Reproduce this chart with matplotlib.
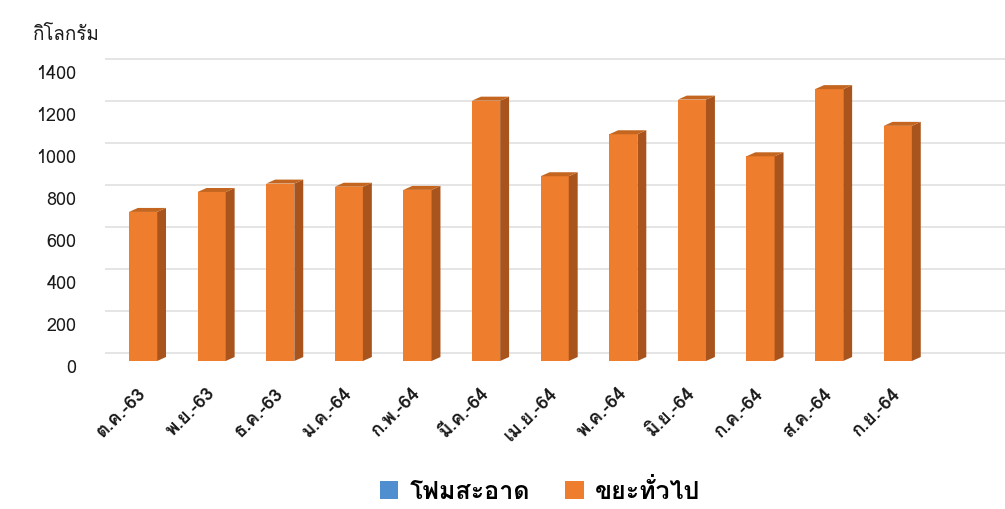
# Recreate the Thai monthly waste bar chart (3D-look bars)
import numpy as np
import matplotlib
matplotlib.use('Agg')
import matplotlib.pyplot as plt
from matplotlib import font_manager
from matplotlib.ft2font import FT2Font
from matplotlib.patches import Polygon, Patch
from matplotlib.transforms import ScaledTranslation

# Data
months = ['ต.ค.-63', 'พ.ย.-63', 'ธ.ค.-63', 'ม.ค.-64', 'ก.พ.-64', 'มี.ค.-64',
          'เม.ย.-64', 'พ.ค.-64', 'มิ.ย.-64', 'ก.ค.-64', 'ส.ค.-64', 'ก.ย.-64']
foam_kg = [0, 0, 0, 0, 0, 0, 0, 0, 0, 0, 0, 0]
general_kg = [710, 805, 845, 830, 815, 1240, 880, 1080, 1245, 975, 1295, 1120]
y_ticks = [0, 200, 400, 600, 800, 1000, 1200, 1400]
unit_label = 'กิโลกรัม'
legend_labels = ['โฟมสะอาด', 'ขยะทั่วไป']

FRONT = '#EE7D2E'
SIDE = '#A8541C'
TOP = '#C4661F'
BLUE = '#4F8FCF'


def find_thai_font():
    """Return the name of an installed font that has Thai glyphs"""
    found = []
    for f in font_manager.fontManager.ttflist:
        try:
            cmap = FT2Font(f.fname).get_charmap()
        except Exception:
            continue
        if 0x0E01 in cmap and 0x0E35 in cmap and 0x0E4C in cmap:
            found.append(f)
    if not found:
        return 'DejaVu Sans'
    # prefer a regular upright face
    found.sort(key=lambda f: (f.style != 'normal', abs(f.weight - 400) if isinstance(f.weight, int) else 0))
    return found[0].name


thai = find_thai_font()
plt.rcParams['font.family'] = [thai, 'DejaVu Sans']

fig = plt.figure(figsize=(10.05, 5.1), dpi=100)
ax = fig.add_axes([100 / 1005, (510 - 362) / 510, 900 / 1005, 312 / 510])

x = np.arange(len(months))
w = 0.41     # front face width
dx = 0.13    # depth, x data units
dy = 19      # depth, y data units

ax.bar(x, foam_kg, width=w, color=BLUE, zorder=3)
ax.bar(x, general_kg, width=w, color=FRONT, zorder=3)
for xi, v in zip(x, general_kg):
    left, right = xi - w / 2, xi + w / 2
    ax.add_patch(Polygon([(right, 0), (right + dx, dy), (right + dx, v + dy), (right, v)],
                         closed=True, facecolor=SIDE, edgecolor='none', zorder=3))
    ax.add_patch(Polygon([(left, v), (right, v), (right + dx, v + dy), (left + dx, v + dy)],
                         closed=True, facecolor=TOP, edgecolor='none', zorder=3))

# back-wall gridlines sit a little higher than the front face
grid_shift = 38
ax.hlines(np.array(y_ticks) + grid_shift, -0.55, 12.6, color='#e0e0e0', lw=1.2,
          zorder=1, clip_on=False)

ax.set_xlim(-0.627, 12.49)
ax.set_ylim(0, 1486)

ax.set_yticks(y_ticks)
ax.set_yticklabels([str(t) for t in y_ticks], fontsize=13, color='#1a1a1a')
ax.tick_params(axis='y', length=0, pad=17)
for lab in ax.get_yticklabels():
    lab.set_transform(lab.get_transform() + ScaledTranslation(0, -4 / 100, fig.dpi_scale_trans))

ax.set_xticks(x)
ax.set_xticklabels(months, rotation=45, ha='right', va='top', rotation_mode='anchor',
                   fontsize=13.5, fontweight='bold', color='#1a1a1a')
ax.tick_params(axis='x', length=0, pad=16)
for lab in ax.get_xticklabels():
    lab.set_transform(lab.get_transform() + ScaledTranslation(-6 / 100, 0, fig.dpi_scale_trans))

for s in ax.spines.values():
    s.set_visible(False)

fig.text(33 / 1005, 1 - 35 / 510, unit_label, fontsize=13.5, color='#1a1a1a',
         ha='left', va='center')

handles = [Patch(facecolor=BLUE), Patch(facecolor=FRONT)]
fig.legend(handles, legend_labels, loc='center', bbox_to_anchor=(540 / 1005, 18 / 510),
           ncol=2, frameon=False, handlelength=0.75, handleheight=0.75,
           handletextpad=0.45, columnspacing=1.4,
           prop={'size': 18, 'weight': 'bold'})

fig.savefig('out.png', dpi=100, facecolor='white')
